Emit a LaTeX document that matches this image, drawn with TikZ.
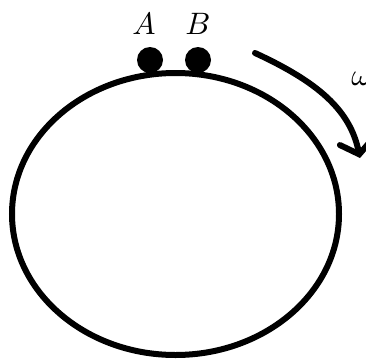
\documentclass[tikz,border=0pt]{standalone}
\usepackage{amsmath}
\usepackage{tikz}
\usetikzlibrary{arrows.meta}

\begin{document}
\begin{tikzpicture}[x=1pt, y=1pt, line width=6pt]
    \useasboundingbox (0,0) rectangle (366,360);

    % disc
    \draw (175.5,146) ellipse [x radius=163.5, y radius=141];

    % two particles on the rim
    \fill (150,300) circle (13);
    \fill (198,300) circle (13);
    \node[inner sep=0pt, scale=3.1] (labA) at (144,336) {$A$};
    \node[inner sep=0pt, scale=3.1] (labB) at (198,336) {$B$};

    % rotation
    \coordinate (rotstart) at (255,307);
    \coordinate (rotend) at (360,202);
    \draw[-{Straight Barb[length=13pt, width=34pt, line cap=round]}, line cap=round]
        (rotstart) .. controls (318,278) and (350,250) .. (rotend);
    \node[inner sep=0pt, scale=3.1, anchor=west] (labw) at (342,281) {$\omega$};
\end{tikzpicture}
\end{document}
